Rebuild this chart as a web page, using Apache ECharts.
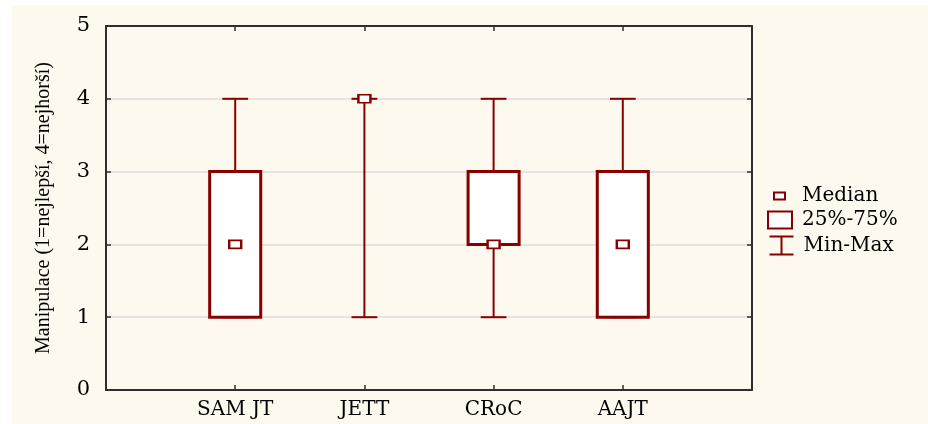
<!DOCTYPE html>
<html><head><meta charset="utf-8">
<script src="https://cdn.jsdelivr.net/npm/echarts@6/dist/echarts.min.js"></script>
<style>
html,body{margin:0;padding:0;background:#ffffff;}
#c{position:absolute;left:12px;top:5px;width:916px;height:419px;background:#fdf9ef;}
</style>
</head><body><div id="c"></div>
<script>
// ---- data ----
const categories = ['SAM JT', 'JETT', 'CRoC', 'AAJT'];
const minValues = [1, 1, 1, 1];
const q1Values = [1, 4, 2, 1];
const medianValues = [2, 4, 2, 2];
const q3Values = [3, 4, 3, 3];
const maxValues = [4, 4, 4, 4];
const yTickLabels = ['0', '1', '2', '3', '4', '5'];
const yAxisTitle = 'Manipulace (1=nejlepší, 4=nejhorší)';
const legendNames = ['Median', '25%-75%', 'Min-Max'];

// ---- styles ----
const RED = '#860000';
const AXIS = '#2e2e2e';
const H_FONT = 'DejaVu Serif';
const V_FONT = 'Liberation Serif';

const whiskerData = categories.map((c, i) => [i + 1, minValues[i], maxValues[i]]);
const boxData = categories.map((c, i) => [i + 1, q1Values[i], q3Values[i]]);
const medianData = categories.map((c, i) => [i + 1, medianValues[i]]);

function renderWhisker(params, api) {
  const x = api.value(0);
  const lo = api.coord([x, api.value(1)]);
  const hi = api.coord([x, api.value(2)]);
  const half = api.size([0.2, 0])[0] / 2;
  const st = { stroke: RED, lineWidth: 2 };
  return {
    type: 'group',
    children: [
      { type: 'line', shape: { x1: lo[0], y1: lo[1], x2: hi[0], y2: hi[1] }, style: st },
      { type: 'line', shape: { x1: lo[0] - half, y1: lo[1], x2: lo[0] + half, y2: lo[1] }, style: st },
      { type: 'line', shape: { x1: hi[0] - half, y1: hi[1], x2: hi[0] + half, y2: hi[1] }, style: st }
    ]
  };
}

function renderBox(params, api) {
  const x = api.value(0);
  const q1 = api.value(1), q3 = api.value(2);
  if (q1 === q3) return null;
  const a = api.coord([x, q3]);
  const b = api.coord([x, q1]);
  const w = api.size([0.395, 0])[0];
  return {
    type: 'rect',
    shape: { x: a[0] - w / 2, y: a[1], width: w, height: b[1] - a[1] },
    style: { fill: '#ffffff', stroke: RED, lineWidth: 3 }
  };
}

const chart = echarts.init(document.getElementById('c'), null, { renderer: 'canvas' });

const commonX = {
  type: 'value', min: 0, max: 5, interval: 1,
  axisLine: { show: true, onZero: false, lineStyle: { color: AXIS, width: 2 } },
  axisTick: { show: true, inside: true, length: 5, lineStyle: { color: AXIS, width: 1.5 } },
  splitLine: { show: false }
};
const commonY = {
  type: 'value', min: 0, max: 5, interval: 1,
  axisLine: { show: true, onZero: false, lineStyle: { color: AXIS, width: 2 } },
  axisTick: { show: true, inside: true, length: 5, lineStyle: { color: AXIS, width: 1.5 } }
};

const legendBase = {
  orient: 'vertical', padding: 0, itemGap: 0, selectedMode: false,
  textStyle: { fontFamily: H_FONT, fontSize: 20, color: '#000' }
};

chart.setOption({
  animation: false,
  backgroundColor: 'transparent',
  grid: { left: 94, top: 21, width: 646, height: 364 },
  xAxis: [
    Object.assign({}, commonX, {
      position: 'bottom',
      axisLabel: {
        show: true, margin: 10, fontFamily: H_FONT, fontSize: 20, color: '#000',
        formatter: v => categories[v - 1] || ''
      }
    }),
    Object.assign({}, commonX, { position: 'top', axisLabel: { show: false } })
  ],
  yAxis: [
    Object.assign({}, commonY, {
      position: 'left',
      name: yAxisTitle, nameLocation: 'middle', nameGap: 52,
      nameTextStyle: { fontFamily: V_FONT, fontSize: 20, color: '#000' },
      axisLabel: {
        show: true, margin: 16, fontFamily: H_FONT, fontSize: 21, color: '#000',
        formatter: v => yTickLabels[v]
      },
      splitLine: { show: true, lineStyle: { color: '#dddddd', width: 1.5 } }
    }),
    Object.assign({}, commonY, { position: 'right', axisLabel: { show: false }, splitLine: { show: false } })
  ],
  legend: [
    Object.assign({}, legendBase, {
      left: 761, top: 181, itemWidth: 11, itemHeight: 7,
      textStyle: Object.assign({}, legendBase.textStyle, { padding: [0, 0, 0, 12] }),
      data: [{ name: legendNames[0], icon: 'rect', itemStyle: { color: '#fff', borderColor: RED, borderWidth: 2 } }]
    }),
    Object.assign({}, legendBase, {
      left: 755, top: 205, itemWidth: 24, itemHeight: 17,
      textStyle: Object.assign({}, legendBase.textStyle, { padding: [0, 0, 0, 5] }),
      data: [{ name: legendNames[1], icon: 'rect', itemStyle: { color: '#fff', borderColor: RED, borderWidth: 2 } }]
    }),
    Object.assign({}, legendBase, {
      left: 755, top: 229, itemWidth: 24, itemHeight: 18,
      textStyle: Object.assign({}, legendBase.textStyle, { padding: [0, 0, 0, 5] }),
      data: [{ name: legendNames[2], icon: 'path://M0,0L24,0M12,0L12,18M0,18L24,18',
               itemStyle: { color: 'none', borderColor: RED, borderWidth: 2 } }]
    })
  ],
  series: [
    {
      name: legendNames[2], type: 'custom', renderItem: renderWhisker,
      data: whiskerData, encode: { x: 0, y: [1, 2] }, itemStyle: { color: RED }, z: 2
    },
    {
      name: legendNames[1], type: 'custom', renderItem: renderBox,
      data: boxData, encode: { x: 0, y: [1, 2] }, itemStyle: { color: RED }, z: 3
    },
    {
      name: legendNames[0], type: 'scatter', data: medianData,
      symbol: 'rect', symbolSize: [12, 8],
      itemStyle: { color: '#ffffff', borderColor: RED, borderWidth: 2, opacity: 1 }, z: 4
    }
  ]
});
</script>
</body></html>
